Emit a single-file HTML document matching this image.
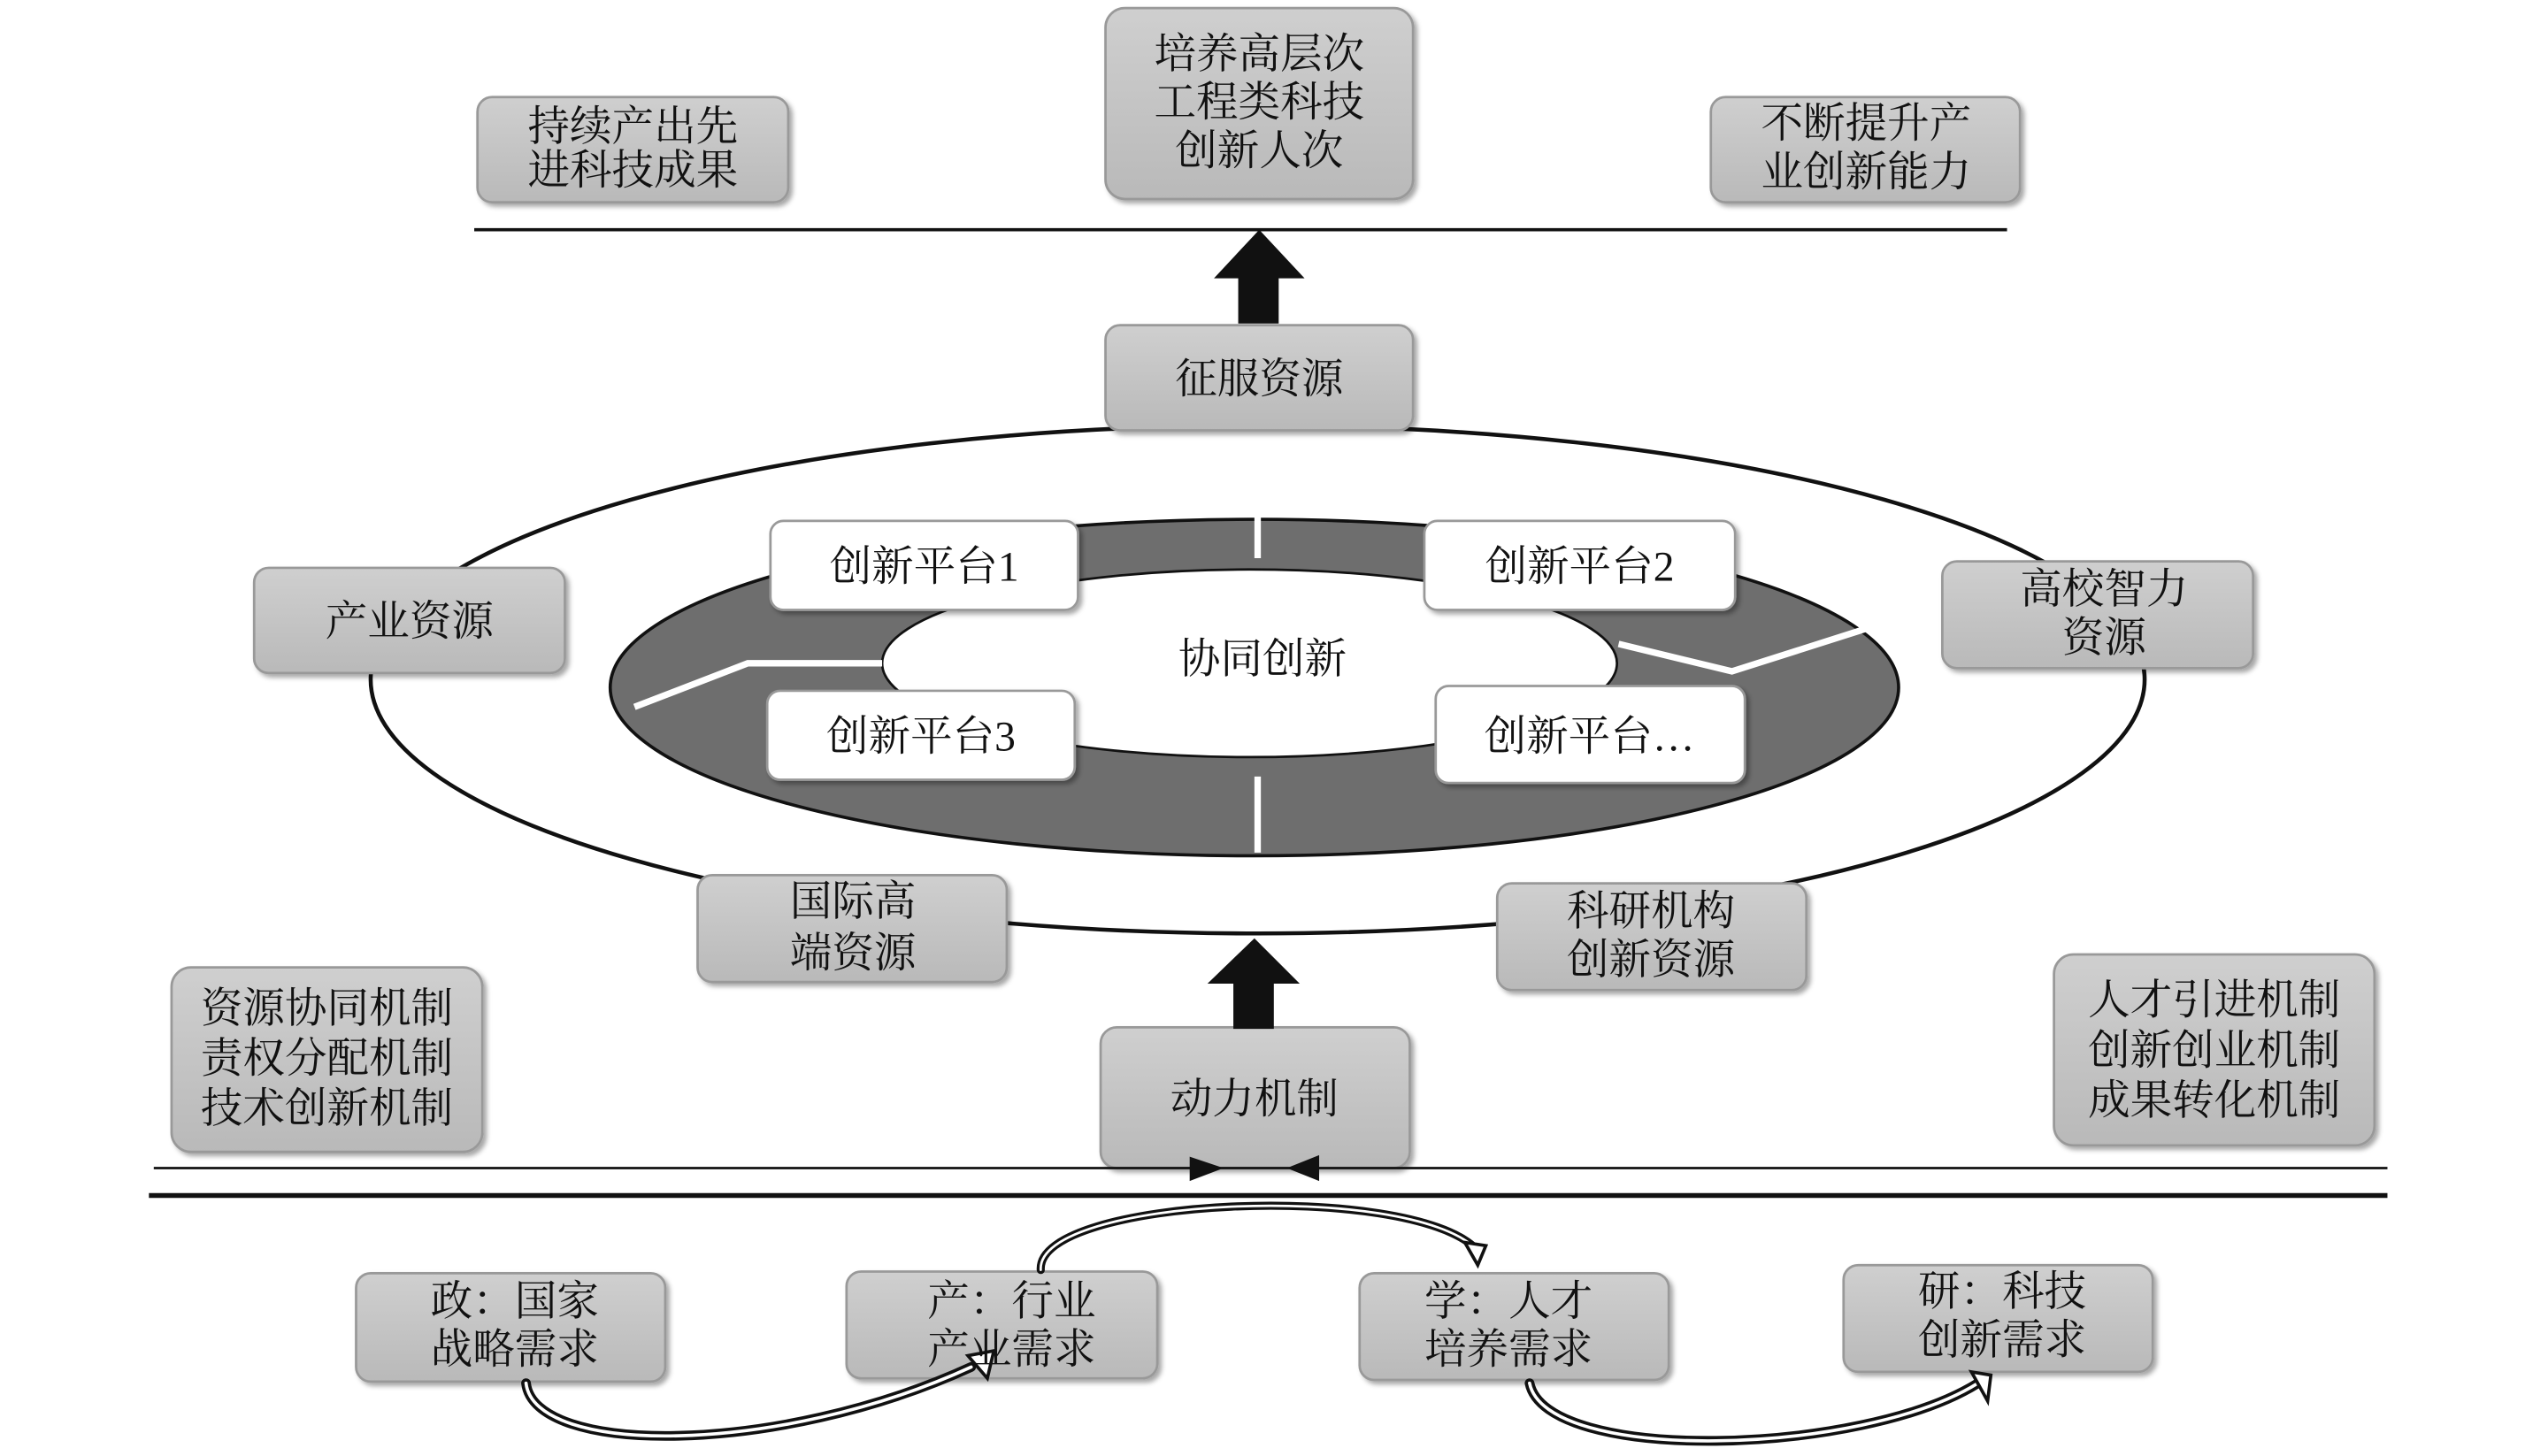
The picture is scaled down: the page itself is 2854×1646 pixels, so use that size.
<!DOCTYPE html>
<html><head><meta charset="utf-8"><style>
html,body{margin:0;padding:0;background:#fff;}
svg{display:block;}
text{font-family:"Liberation Serif","Noto Serif CJK SC",serif;font-size:26px;fill:#111;text-anchor:middle;}
</style></head><body>
<svg width="2854" height="1646" viewBox="0 0 1560 900" preserveAspectRatio="none" xmlns="http://www.w3.org/2000/svg">
<defs>
<linearGradient id="g" x1="0" y1="0" x2="0" y2="1"><stop offset="0" stop-color="#cfcfcf"/><stop offset="1" stop-color="#b9b9b9"/></linearGradient>
<filter id="s" x="-10%" y="-10%" width="130%" height="130%"><feDropShadow dx="2" dy="2" stdDeviation="1.5" flood-color="#000" flood-opacity="0.35"/></filter>
</defs>
<g fill="url(#g)" stroke="#999" stroke-width="1.5" filter="url(#s)">
<rect x="295" y="60" width="192" height="65" rx="9"/>
<rect x="683" y="5" width="190" height="118" rx="12"/>
<rect x="1057" y="60" width="191" height="65" rx="9"/>
</g>
<line x1="293" y1="142" x2="1240" y2="142" stroke="#111" stroke-width="2"/>
<path d="M765 200V172H750L778 142L806 172H790V200Z" fill="#111"/>
<!-- outer ellipse -->
<ellipse cx="777" cy="420" rx="548" ry="157" fill="none" stroke="#111" stroke-width="2.5"/>
<!-- ring -->
<ellipse cx="775" cy="425" rx="398" ry="104" fill="#6e6e6e" stroke="#111" stroke-width="2"/>
<ellipse cx="772" cy="410" rx="227" ry="58" fill="#fff" stroke="#111" stroke-width="1.5"/>
<g stroke="#fff" stroke-width="4" fill="none">
<line x1="777" y1="303" x2="777" y2="345"/>
<line x1="777" y1="480" x2="777" y2="527"/>
<polyline points="392,437 462,410 545,410"/>
<polyline points="1000,398 1070,415 1158,387"/>
</g>
<g fill="#fff" stroke="#999" stroke-width="1.5" filter="url(#s)">
<rect x="476" y="322" width="190" height="55" rx="8"/>
<rect x="880" y="322" width="192" height="55" rx="8"/>
<rect x="474" y="427" width="190" height="55" rx="8"/>
<rect x="887" y="424" width="191" height="60" rx="8"/>
</g>
<g fill="url(#g)" stroke="#999" stroke-width="1.5" filter="url(#s)">
<rect x="683" y="201" width="190" height="65" rx="9"/>
<rect x="157" y="351" width="192" height="65" rx="9"/>
<rect x="1200" y="347" width="192" height="66" rx="9"/>
<rect x="431" y="541" width="191" height="66" rx="9"/>
<rect x="925" y="546" width="191" height="66" rx="9"/>
<rect x="106" y="598" width="192" height="114" rx="12"/>
<rect x="1269" y="590" width="198" height="118" rx="12"/>
<rect x="680" y="635" width="191" height="87" rx="10"/>
<rect x="220" y="787" width="191" height="67" rx="9"/>
<rect x="523" y="786" width="192" height="66" rx="9"/>
<rect x="840" y="787" width="191" height="66" rx="9"/>
<rect x="1139" y="782" width="191" height="66" rx="9"/>
</g>
<path d="M762 636V608H746L775 580L803 608H787V636Z" fill="#111"/>
<line x1="95" y1="722" x2="1475" y2="722" stroke="#111" stroke-width="1.5"/>
<line x1="92" y1="739" x2="1475" y2="739" stroke="#111" stroke-width="3"/>
<path d="M735 715L756 722L735 730Z" fill="#111"/>
<path d="M815 714L795 722L815 730Z" fill="#111"/>
<!-- curved arrows -->
<g fill="none" stroke-linecap="round">
<path d="M325 855C330 900 480 900 600 845" stroke="#111" stroke-width="6"/>
<path d="M325 855C330 900 480 900 600 845" stroke="#fff" stroke-width="2"/>
<path d="M643 785C640 740 870 730 912 772" stroke="#111" stroke-width="5"/>
<path d="M643 785C640 740 870 730 912 772" stroke="#fff" stroke-width="1.5"/>
<path d="M945 855C955 905 1150 900 1222 855" stroke="#111" stroke-width="6"/>
<path d="M945 855C955 905 1150 900 1222 855" stroke="#fff" stroke-width="2"/>
</g>
<path d="M598 838L614 835L610 852Z" fill="#fff" stroke="#111" stroke-width="2"/>
<path d="M905 768L918 770L913 782Z" fill="#fff" stroke="#111" stroke-width="2"/>
<path d="M1218 848L1230 850L1228 866Z" fill="#fff" stroke="#111" stroke-width="2"/>
<!-- texts -->
<text x="391" y="87">持续产出先</text><text x="391" y="114">进科技成果</text>
<text x="778" y="42">培养高层次</text><text x="778" y="72">工程类科技</text><text x="778" y="102">创新人次</text>
<text x="1153" y="85">不断提升产</text><text x="1153" y="115">业创新能力</text>
<text x="778" y="243">征服资源</text>
<text x="253" y="393">产业资源</text>
<text x="1300" y="373">高校智力</text><text x="1300" y="403">资源</text>
<text x="780" y="416">协同创新</text>
<text x="571" y="359">创新平台1</text>
<text x="976" y="359">创新平台2</text>
<text x="569" y="464">创新平台3</text>
<text x="982" y="464">创新平台…</text>
<text x="527" y="566">国际高</text><text x="527" y="598">端资源</text>
<text x="1020" y="572">科研机构</text><text x="1020" y="602">创新资源</text>
<text x="202" y="632">资源协同机制</text><text x="202" y="663">责权分配机制</text><text x="202" y="694">技术创新机制</text>
<text x="1368" y="627">人才引进机制</text><text x="1368" y="658">创新创业机制</text><text x="1368" y="689">成果转化机制</text>
<text x="775" y="688">动力机制</text>
<text x="318" y="813">政：国家</text><text x="318" y="843">战略需求</text>
<text x="625" y="813">产：行业</text><text x="625" y="843">产业需求</text>
<text x="932" y="813">学：人才</text><text x="932" y="843">培养需求</text>
<text x="1237" y="807">研：科技</text><text x="1237" y="837">创新需求</text>
</svg>
</body></html>
